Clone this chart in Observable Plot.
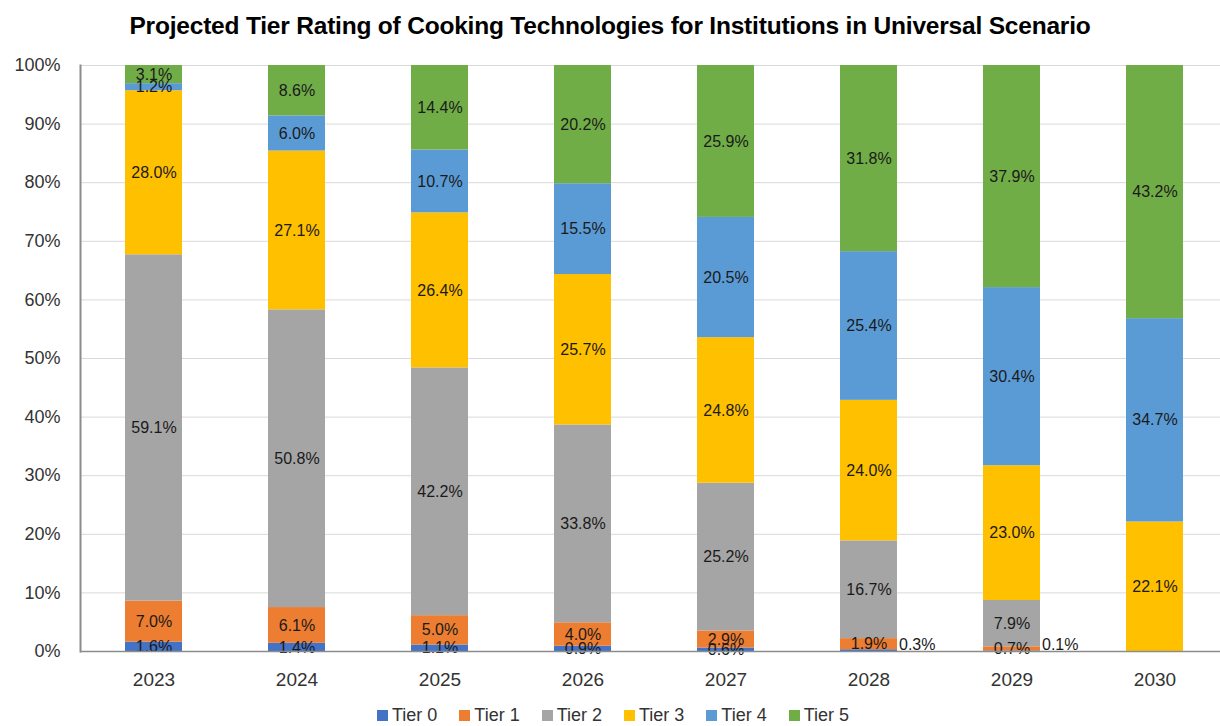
<!DOCTYPE html>
<html>
<head>
<meta charset="utf-8">
<script src="https://cdn.jsdelivr.net/npm/d3@7"></script>
<script src="https://cdn.jsdelivr.net/npm/@observablehq/plot@0.6"></script>
<style>
  html, body { margin: 0; background: #fff; font-family: "Liberation Sans", Arial, sans-serif; overflow: hidden; }
  #title { height: 50px; line-height: 52px; text-align: center; font-weight: bold; font-size: 24.5px; color: #000; letter-spacing: -0.2px; }
  #chart svg { display: block; }
  #legend { display: flex; justify-content: center; gap: 22px; font-size: 18px; line-height: 22px; color: #333; height: 22px; align-items: center; padding-top: 8px; padding-left: 6px; }
  #legend span.sw { display: inline-block; width: 11px; height: 11px; margin-right: 4px; vertical-align: 0px; }
</style>
</head>
<body>
<div id="title">Projected Tier Rating of Cooking Technologies for Institutions in Universal Scenario</div>
<div id="chart"></div>
<div id="legend"></div>
<script>
const years = ["2023", "2024", "2025", "2026", "2027", "2028", "2029", "2030"];
const tiers = ["Tier 0", "Tier 1", "Tier 2", "Tier 3", "Tier 4", "Tier 5"];
const colors = ["#4472C4", "#ED7D31", "#A5A5A5", "#FFC000", "#5B9BD5", "#70AD47"];
const tier0 = [1.6, 1.4, 1.1, 0.9, 0.6, 0.3, 0.1, 0.0];
const tier1 = [7.0, 6.1, 5.0, 4.0, 2.9, 1.9, 0.7, 0.0];
const tier2 = [59.1, 50.8, 42.2, 33.8, 25.2, 16.7, 7.9, 0.0];
const tier3 = [28.0, 27.1, 26.4, 25.7, 24.8, 24.0, 23.0, 22.1];
const tier4 = [1.2, 6.0, 10.7, 15.5, 20.5, 25.4, 30.4, 34.7];
const tier5 = [3.1, 8.6, 14.4, 20.2, 25.9, 31.8, 37.9, 43.2];
const series = [tier0, tier1, tier2, tier3, tier4, tier5];

const data = [];
tiers.forEach((t, i) => years.forEach((y, j) => data.push({year: y, tier: t, value: series[i][j]})));

const fmt = v => v.toFixed(1) + "%";
const isOutside = d => d.value > 0 && d.value < 0.5;

const stackOpts = {x: "year", y: "value", z: "tier", offset: "normalize"};

const plot = Plot.plot({
  width: 1220,
  height: 646,
  marginTop: 15,
  marginBottom: 45,
  marginLeft: 80,
  marginRight: 0,
  style: {fontFamily: "Liberation Sans, Arial, sans-serif", background: "#fff"},
  x: {domain: years, range: [80, 1229], paddingInner: 0.6, paddingOuter: 0.3, label: null},
  y: {domain: [0, 1], label: null},
  color: {domain: tiers, range: colors},
  marks: [
    Plot.gridY({ticks: d3.range(0, 1.01, 0.1), stroke: "#d9d9d9", strokeOpacity: 1, strokeWidth: 1}),
    Plot.barY(data, Plot.stackY({...stackOpts, fill: "tier"})),
    Plot.text(data, Plot.stackY({...stackOpts, text: d => (d.value > 0 && !isOutside(d)) ? fmt(d.value) : "", fontSize: 16, fill: "#1a1a1a"})),
    Plot.text(data, Plot.stackY({...stackOpts, text: d => isOutside(d) ? fmt(d.value) : "", fontSize: 16, fill: "#1a1a1a", textAnchor: "start", dx: 30, dy: -6})),
    Plot.ruleY([0], {stroke: "#8c8c8c", strokeWidth: 1.5}),
    Plot.frame({anchor: "left", stroke: "#8c8c8c", strokeWidth: 2}),
    Plot.axisY({ticks: d3.range(0, 1.01, 0.1), tickFormat: d3.format(".0%"), tickSize: 0, tickPadding: 20, fontSize: 18, color: "#333", label: null}),
    Plot.axisX({tickSize: 0, tickPadding: 21, fontSize: 19, color: "#333", label: null})
  ]
});
document.getElementById("chart").appendChild(plot);

const legend = document.getElementById("legend");
tiers.forEach((t, i) => {
  const item = document.createElement("span");
  item.innerHTML = `<span class="sw" style="background:${colors[i]}"></span>${t}`;
  legend.appendChild(item);
});
</script>
</body>
</html>
